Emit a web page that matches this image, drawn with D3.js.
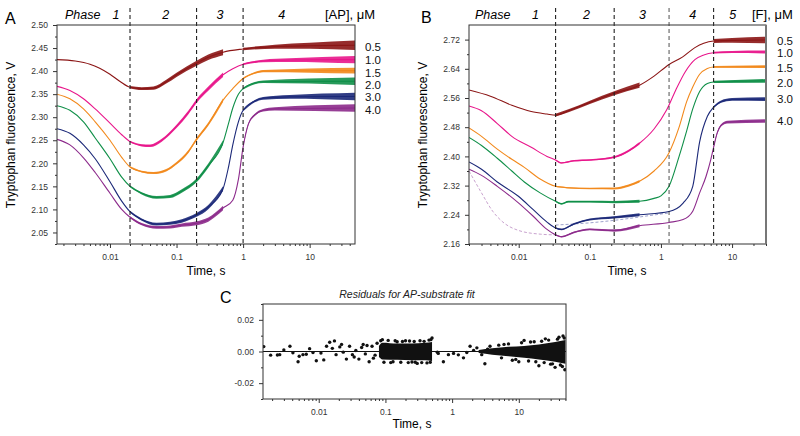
<!DOCTYPE html>
<html><head><meta charset="utf-8">
<script src="https://cdn.jsdelivr.net/npm/d3@7"></script>
<style>
body{margin:0;background:#fff}
svg{display:block}
text{font-family:"Liberation Sans",Arial,Helvetica,sans-serif}
</style>
</head><body>
<svg id="chart" width="800" height="436"></svg>
<script>
// ---------------- DATA ----------------
const concA = ["0.5","1.0","1.5","2.0","3.0","4.0"];
const concB = ["0.5","1.0","1.5","2.0","3.0","4.0"];
const phaseA = [0.02, 0.2, 1];
const phaseB = [0.033, 0.22, 1.3, 5.5];
const phaseLabelsA = ["1","2","3","4"];
const phaseLabelsB = ["1","2","3","4","5"];
const xTickVals = [0.01, 0.1, 1, 10];
const yTicksA = [2.05,2.10,2.15,2.20,2.25,2.30,2.35,2.40,2.45,2.50];
const yTicksB = [2.16,2.24,2.32,2.40,2.48,2.56,2.64,2.72];
const yTicksC = [-0.02,0,0.02];

// Panel A: [AP] series, [time s, fluorescence V]
const a05 = [[0.0016,2.425],[0.003,2.422],[0.005,2.415],[0.007,2.406],[0.01,2.393],[0.014,2.378],[0.02,2.365],[0.03,2.362],[0.045,2.363],[0.07,2.377],[0.1,2.392],[0.2,2.417],[0.3,2.430],[0.5,2.441],[1,2.448],[3,2.453],[10,2.455],[48,2.456]];
const a10 = [[0.0016,2.367],[0.0025,2.358],[0.004,2.340],[0.006,2.318],[0.01,2.287],[0.015,2.262],[0.02,2.247],[0.03,2.239],[0.04,2.238],[0.06,2.250],[0.1,2.280],[0.15,2.310],[0.2,2.335],[0.3,2.362],[0.5,2.392],[0.7,2.405],[1,2.415],[2,2.422],[5,2.424],[48,2.425]];
const a15 = [[0.0016,2.350],[0.0025,2.340],[0.004,2.318],[0.006,2.290],[0.01,2.250],[0.015,2.213],[0.02,2.192],[0.03,2.182],[0.045,2.179],[0.07,2.185],[0.1,2.200],[0.15,2.225],[0.2,2.252],[0.3,2.285],[0.5,2.337],[0.7,2.362],[1,2.384],[1.5,2.396],[2,2.400],[48,2.401]];
const a20 = [[0.0016,2.325],[0.0025,2.315],[0.004,2.290],[0.006,2.255],[0.01,2.210],[0.015,2.170],[0.02,2.150],[0.03,2.135],[0.05,2.126],[0.08,2.128],[0.12,2.140],[0.2,2.163],[0.3,2.195],[0.5,2.245],[0.6,2.285],[0.7,2.32],[0.85,2.35],[1,2.362],[1.5,2.374],[2,2.377],[48,2.378]];
const a30 = [[0.0016,2.275],[0.0025,2.265],[0.004,2.240],[0.006,2.210],[0.01,2.160],[0.015,2.118],[0.02,2.095],[0.03,2.078],[0.05,2.068],[0.08,2.070],[0.12,2.075],[0.2,2.088],[0.3,2.105],[0.5,2.145],[0.6,2.19],[0.7,2.24],[0.85,2.29],[1,2.315],[1.5,2.335],[2,2.341],[5,2.344],[48,2.345]];
const a40 = [[0.0016,2.252],[0.0025,2.240],[0.004,2.212],[0.006,2.180],[0.01,2.135],[0.015,2.100],[0.02,2.083],[0.03,2.068],[0.05,2.061],[0.08,2.062],[0.12,2.066],[0.2,2.070],[0.3,2.078],[0.5,2.103],[0.7,2.12],[0.85,2.165],[1,2.235],[1.2,2.285],[1.5,2.305],[2,2.315],[3,2.318],[48,2.32]];

// Panel B: [F] series
const b05 = [[0.002,2.582],[0.004,2.565],[0.008,2.540],[0.015,2.523],[0.025,2.516],[0.033,2.513],[0.05,2.525],[0.1,2.548],[0.22,2.573],[0.5,2.595],[0.8,2.620],[1.3,2.652],[2,2.672],[3,2.698],[4,2.710],[5.5,2.716],[10,2.718],[30,2.719]];
const b10 = [[0.002,2.538],[0.003,2.525],[0.005,2.490],[0.008,2.455],[0.015,2.425],[0.025,2.400],[0.033,2.390],[0.04,2.382],[0.06,2.388],[0.1,2.390],[0.22,2.398],[0.35,2.415],[0.5,2.436],[0.8,2.475],[1.2,2.527],[1.6,2.580],[2.2,2.632],[3,2.665],[4,2.678],[5.5,2.684],[10,2.686],[30,2.686]];
const b15 = [[0.002,2.478],[0.003,2.455],[0.005,2.420],[0.008,2.392],[0.012,2.370],[0.02,2.338],[0.033,2.318],[0.05,2.314],[0.1,2.312],[0.22,2.312],[0.35,2.320],[0.5,2.332],[0.8,2.360],[1.3,2.41],[1.8,2.48],[2.3,2.55],[2.8,2.59],[3.5,2.625],[4.5,2.641],[5.5,2.645],[30,2.646]];
const b20 = [[0.002,2.452],[0.003,2.430],[0.005,2.395],[0.008,2.36],[0.012,2.33],[0.02,2.30],[0.033,2.277],[0.04,2.270],[0.05,2.276],[0.1,2.276],[0.22,2.275],[0.5,2.277],[0.8,2.285],[1,2.292],[1.3,2.318],[1.8,2.40],[2.3,2.47],[2.8,2.53],[3.5,2.578],[4.5,2.600],[5.5,2.604],[30,2.607]];
const b30 = [[0.002,2.385],[0.003,2.365],[0.005,2.33],[0.01,2.29],[0.016,2.254],[0.025,2.22],[0.033,2.204],[0.04,2.200],[0.06,2.215],[0.1,2.227],[0.22,2.233],[0.5,2.240],[1.3,2.249],[2.05,2.272],[2.8,2.318],[3.5,2.44],[4.5,2.51],[5.5,2.535],[7,2.55],[10,2.556],[30,2.557]];
const b40 = [[0.002,2.365],[0.003,2.348],[0.005,2.318],[0.01,2.272],[0.016,2.236],[0.025,2.20],[0.033,2.185],[0.04,2.180],[0.06,2.192],[0.1,2.200],[0.22,2.197],[0.5,2.210],[1.3,2.219],[2.05,2.227],[2.8,2.25],[3.5,2.30],[4.3,2.345],[5,2.39],[5.5,2.425],[6.2,2.465],[7,2.485],[8.6,2.494],[30,2.497]];
const bDash1 = [[0.002,2.36],[0.003,2.30],[0.0043,2.25],[0.006,2.22],[0.01,2.197],[0.02,2.187],[0.033,2.185]];
const bDash2 = [[0.033,2.212],[0.1,2.218],[0.3,2.228],[0.7,2.238],[1.3,2.245]];

// noise half-width profiles [time, V] inside the dense-sampling windows
const noiseA = [[0.02,0.002],[0.1,0.0035],[0.5,0.005],[1,0.002],[5,0.004],[20,0.006],[48,0.008]];
const noiseB = [[0.033,0.002],[0.2,0.003],[0.5,0.004],[5.5,0.003],[30,0.005]];
const denseA = [[0.02,0.5],[1,48]];
const denseB = [[0.033,0.5],[5.5,30]];
const noiseScaleA = [1.3,1,0.8,1,1,1];
const noiseScaleB = [1.8,0.8,0.8,1,1,1];

// Panel C: residuals
const residPts = [[0.0015,0.0031],[0.0019,-0.0023],[0.0024,-0.0022],[0.0026,-0.002],[0.003,0.001],[0.0037,0.0033],[0.0041,-0.0008],[0.0049,-0.0065],[0.0051,-0.003],[0.0058,-0.002],[0.0065,-0.0017],[0.0073,0.0018],[0.0082,-0.0007],[0.0092,-0.0058],[0.0108,-0.001],[0.0119,-0.0053],[0.0131,0.0033],[0.0146,0.0058],[0.016,0.002],[0.0172,0.0067],[0.0182,-0.002],[0.0207,0.0029],[0.0233,-0.0004],[0.026,-0.0048],[0.029,0.0033],[0.032,-0.002],[0.036,0.0006],[0.04,-0.0048],[0.0464,0.0044],[0.05,-0.0015],[0.057,-0.0065],[0.063,0.0033],[0.07,-0.0023],[0.075,0.0052],[0.022,0.0045],[0.034,-0.0035],[0.044,0.0025],[0.053,0.0038],[0.066,-0.0042],
  [0.085,0.0068],[0.09,0.0075],[0.095,-0.0068],[0.11,0.007],[0.12,-0.007],[0.13,-0.0065],[0.14,0.0068],[0.15,0.0062],[0.17,-0.0068],[0.18,0.0063],[0.2,0.0068],[0.22,-0.007],[0.23,0.0066],[0.25,-0.0066],[0.27,0.0063],[0.28,-0.0068],[0.3,-0.0075],[0.33,0.0068],[0.35,-0.007],[0.38,0.0064],[0.42,-0.0072],[0.45,0.0072],[0.47,-0.0068],[0.48,0.0075],[0.5,0.0085],
  [0.6,-0.0004],[0.62,-0.0012],[0.74,-0.0065],[0.88,-0.002],[1.05,-0.0012],[1.24,-0.0021],[1.48,-0.004],[1.66,-0.0006],[1.86,0.0033],[2.1,0.0007],[2.35,0.0023],[2.78,-0.002],[3.1,-0.0077],[3.4,0.0015],[3.7,0.0033],[4.2,0.0007],
  [5,0.004],[5.5,-0.004],[6,0.0045],[7,0.0048],[8,-0.0055],[9,-0.005],[10,-0.0065],[11,0.0055],[12,0.007],[14,-0.006],[15,0.006],[17,0.0062],[18,-0.0065],[20,-0.009],[22,0.0065],[24,-0.007],[25,0.008],[28,0.0072],[30,-0.008],[32,-0.0078],[35,-0.01],[38,0.0078],[40,0.009],[42,-0.0085],[45,-0.0095],[46,0.0098],[48,0.0085],[49,-0.0115]];
const residBand1 = [[0.08,-0.0035,0.0035],[0.09,-0.005,0.0055],[0.15,-0.0052,0.005],[0.25,-0.0055,0.005],[0.4,-0.0055,0.0055],[0.5,-0.006,0.006]];
const residBand2 = [[2.5,-0.001,0.001],[4,-0.002,0.002],[7,-0.003,0.003],[12,-0.004,0.0035],[20,-0.005,0.0045],[35,-0.0065,0.006],[50,-0.0078,0.0072]];

// ---------------- STYLE ----------------
const colors = ["#8b1515","#e8168b","#f2891c","#0f8f48","#1b2878","#8c2a8b"];
const svg = d3.select("#chart");
const FONT = '"Liberation Sans",Arial,sans-serif';

function fmt(d, n){ return d.toFixed(n); }

function hwAt(profile, t){
  if (t <= profile[0][0]) return profile[0][1];
  for (let i=1;i<profile.length;i++){
    if (t <= profile[i][0]){
      const a = profile[i-1], b = profile[i];
      const f = (Math.log(t)-Math.log(a[0]))/(Math.log(b[0])-Math.log(a[0]));
      return a[1] + f*(b[1]-a[1]);
    }
  }
  return profile[profile.length-1][1];
}

function minorLog(dom){
  const out=[];
  for (let e=-4;e<=3;e++) for (let k=2;k<=9;k++){
    const v=k*Math.pow(10,e);
    if (v>=dom[0] && v<=dom[1]) out.push(v);
  }
  return out;
}

function drawAxes(g, x, y, L, R, T, B, yTicks, yMinor, yfmt){
  const xa = g.append("g").attr("transform",`translate(0,${B})`)
    .call(d3.axisBottom(x).tickValues(xTickVals).tickFormat(d=>String(d)).tickSize(4).tickSizeOuter(0));
  const xm = g.append("g").attr("transform",`translate(0,${B})`)
    .call(d3.axisBottom(x).tickValues(minorLog(x.domain())).tickFormat("").tickSize(2).tickSizeOuter(0));
  const ya = g.append("g").attr("transform",`translate(${L},0)`)
    .call(d3.axisLeft(y).tickValues(yTicks).tickFormat(yfmt).tickSize(4).tickSizeOuter(0));
  const ym = g.append("g").attr("transform",`translate(${L},0)`)
    .call(d3.axisLeft(y).tickValues(yMinor).tickFormat("").tickSize(2).tickSizeOuter(0));
  [xa,xm,ya,ym].forEach(a=>{ a.select(".domain").remove(); a.selectAll("line").attr("stroke","#333"); });
  [xa,ya].forEach(a=>a.selectAll("text").attr("font-size","8.5px").attr("fill","#333").style("font-family",FONT));
  xa.selectAll("text").attr("dy","1.05em");
  ya.selectAll("text").attr("dx","-0.25em");
}

function drawSeries(g, x, y, data, color, noise, dense, scale, clipId){
  const line = d3.line().x(d=>x(d[0])).y(d=>y(d[1])).curve(d3.curveMonotoneX);
  const gg = g.append("g").attr("clip-path",`url(#${clipId})`);
  dense.forEach(seg=>{
    const pts = data.filter(d=>d[0]>=seg[0]-1e-9 && d[0]<=seg[1]+1e-9);
    const area = d3.area().x(d=>x(d[0]))
      .y0(d=>y(d[1]-hwAt(noise,d[0])*scale))
      .y1(d=>y(d[1]+hwAt(noise,d[0])*scale))
      .curve(d3.curveMonotoneX);
    gg.append("path").attr("d",area(pts)).attr("fill",color).attr("opacity",0.9);
  });
  gg.append("path").attr("d",line(data)).attr("fill","none").attr("stroke",color).attr("stroke-width",1.1);
}

// ---------------- PANEL A ----------------
(function(){
  const L=57,R=355,T=25,B=244;
  const x = d3.scaleLog().domain([0.0016,48]).range([L,R]);
  const y = d3.scaleLinear().domain([2.025,2.50]).range([B,T]);
  const g = svg.append("g");
  g.append("clipPath").attr("id","clipA").append("rect").attr("x",L).attr("y",T).attr("width",R-L).attr("height",B-T);
  const series=[a05,a10,a15,a20,a30,a40];
  series.forEach((s,i)=>drawSeries(g,x,y,s,colors[i],noiseA,denseA,noiseScaleA[i],"clipA"));
  g.selectAll(".phA").data(phaseA).join("line")
    .attr("x1",d=>x(d)).attr("x2",d=>x(d)).attr("y1",8).attr("y2",B)
    .attr("stroke","#222").attr("stroke-width",1.1).attr("stroke-dasharray","4,3");
  g.append("rect").attr("x",L).attr("y",T).attr("width",R-L).attr("height",B-T).attr("fill","none").attr("stroke","#333").attr("stroke-width",1);
  const yMinor = d3.range(2.025,2.5,0.05).map(v=>+v.toFixed(3));
  drawAxes(g,x,y,L,R,T,B,yTicksA,yMinor,d=>fmt(d,2));
  g.append("text").attr("x",x(0.0039)).attr("y",19).attr("text-anchor","middle").attr("font-style","italic").attr("font-size","12.5px").text("Phase");
  const labT=[0.0123,0.069,0.45,3.8];
  phaseLabelsA.forEach((p,i)=>g.append("text").attr("x",x(labT[i])).attr("y",19).attr("text-anchor","middle").attr("font-style","italic").attr("font-size","12.5px").text(p));
  g.append("text").attr("x",325).attr("y",19).attr("font-size","13px").text("[AP], \u03bcM");
  const legY=[51,64,76.5,88.5,100.5,113.5];
  concA.forEach((c,i)=>g.append("text").attr("x",365).attr("y",legY[i]).attr("font-size","11.5px").attr("fill","#111").text(c));
  g.append("text").attr("x",5).attr("y",24).attr("font-size","16px").text("A");
  g.append("text").attr("transform","translate(15,135) rotate(-90)").attr("text-anchor","middle").attr("font-size","12px").text("Tryptophan fluorescence, V");
  g.append("text").attr("x",206).attr("y",275).attr("text-anchor","middle").attr("font-size","12px").text("Time, s");
})();

// ---------------- PANEL B ----------------
(function(){
  const L=469,R=766,T=25,B=244;
  const x = d3.scaleLog().domain([0.002,30]).range([L,R]);
  const y = d3.scaleLinear().domain([2.16,2.76]).range([B,T]);
  const g = svg.append("g");
  g.append("clipPath").attr("id","clipB").append("rect").attr("x",L).attr("y",T).attr("width",R-L).attr("height",B-T);
  const dl = d3.line().x(d=>x(d[0])).y(d=>y(d[1])).curve(d3.curveMonotoneX);
  g.append("path").attr("d",dl(bDash1)).attr("fill","none").attr("stroke","#c9a3cf").attr("stroke-width",1).attr("stroke-dasharray","3,2");
  g.append("path").attr("d",dl(bDash2)).attr("fill","none").attr("stroke","#9ea3cc").attr("stroke-width",1).attr("stroke-dasharray","3,2");
  const series=[b05,b10,b15,b20,b30,b40];
  series.forEach((s,i)=>drawSeries(g,x,y,s,colors[i],noiseB,denseB,noiseScaleB[i],"clipB"));
  g.selectAll(".phB").data(phaseB).join("line")
    .attr("x1",d=>x(d)).attr("x2",d=>x(d)).attr("y1",8).attr("y2",B)
    .attr("stroke","#222").attr("stroke-width",(d,i)=>i===2?0.8:1.1).attr("stroke-dasharray","4,3");
  g.append("rect").attr("x",L).attr("y",T).attr("width",R-L).attr("height",B-T).attr("fill","none").attr("stroke","#333").attr("stroke-width",1);
  g.append("line").attr("x1",R).attr("x2",R).attr("y1",T).attr("y2",B).attr("stroke","#777").attr("stroke-width",2);
  const yMinor = d3.range(2.20,2.76,0.08).map(v=>+v.toFixed(3));
  drawAxes(g,x,y,L,R,T,B,yTicksB,yMinor,d=>fmt(d,2));
  g.append("text").attr("x",x(0.0043)).attr("y",19).attr("text-anchor","middle").attr("font-style","italic").attr("font-size","12.5px").text("Phase");
  const labT=[0.0172,0.09,0.55,2.8,10.2];
  phaseLabelsB.forEach((p,i)=>g.append("text").attr("x",x(labT[i])).attr("y",19).attr("text-anchor","middle").attr("font-style","italic").attr("font-size","12.5px").text(p));
  g.append("text").attr("x",752).attr("y",19).attr("font-size","13px").text("[F], \u03bcM");
  const legY=[45,57,71.5,87,103,124.5];
  concB.forEach((c,i)=>g.append("text").attr("x",777).attr("y",legY[i]).attr("font-size","11.5px").attr("fill","#111").text(c));
  g.append("text").attr("x",421).attr("y",23).attr("font-size","16px").text("B");
  g.append("text").attr("transform","translate(427,135) rotate(-90)").attr("text-anchor","middle").attr("font-size","12px").text("Tryptophan fluorescence, V");
  g.append("text").attr("x",627).attr("y",275).attr("text-anchor","middle").attr("font-size","12px").text("Time, s");
})();

// ---------------- PANEL C ----------------
(function(){
  const L=263,R=566,T=304,B=399;
  const x = d3.scaleLog().domain([0.00146,51]).range([L,R]);
  const y = d3.scaleLinear().domain([-0.03,0.03]).range([B,T]);
  const g = svg.append("g");
  g.append("clipPath").attr("id","clipC").append("rect").attr("x",L).attr("y",T).attr("width",R-L).attr("height",B-T);
  const gg = g.append("g").attr("clip-path","url(#clipC)");
  const area = d3.area().x(d=>x(d[0])).y0(d=>y(d[1])).y1(d=>y(d[2])).curve(d3.curveMonotoneX);
  [residBand1,residBand2].forEach(b=>gg.append("path").attr("d",area(b)).attr("fill","#111"));
  gg.selectAll("circle").data(residPts).join("circle")
    .attr("cx",d=>x(d[0])).attr("cy",d=>y(d[1])).attr("r",1.7).attr("fill","#111");
  gg.append("line").attr("x1",L).attr("x2",R).attr("y1",y(0)).attr("y2",y(0)).attr("stroke","#111").attr("stroke-width",1.1);
  g.append("rect").attr("x",L).attr("y",T).attr("width",R-L).attr("height",B-T).attr("fill","none").attr("stroke","#333").attr("stroke-width",1);
  drawAxes(g,x,y,L,R,T,B,yTicksC,[-0.03,-0.01,0.01,0.03],d=>fmt(d,2));
  g.append("text").attr("x",407).attr("y",298).attr("text-anchor","middle").attr("font-style","italic").attr("font-size","10.5px").attr("fill","#222").text("Residuals for AP-substrate fit");
  g.append("text").attr("x",220).attr("y",303).attr("font-size","16px").text("C");
  g.append("text").attr("x",412).attr("y",428).attr("text-anchor","middle").attr("font-size","12px").text("Time, s");
})();
</script>
</body></html>
